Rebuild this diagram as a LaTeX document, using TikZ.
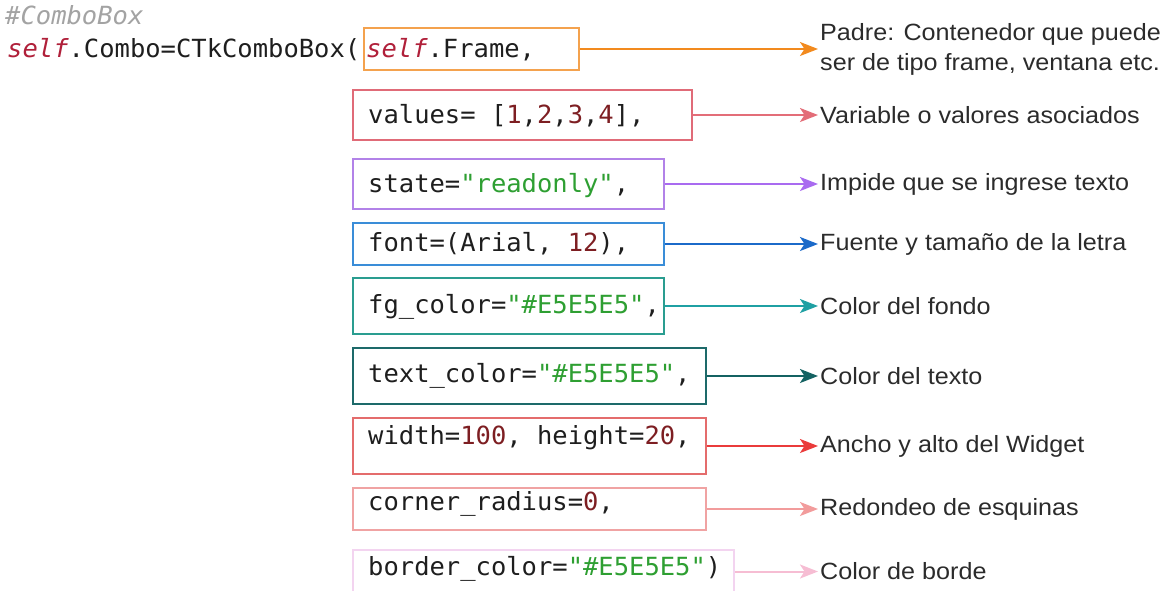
\documentclass[tikz,border=0pt]{standalone}
\usepackage{fontspec}
\setmainfont{Liberation Sans}
\newfontfamily\codefont[FakeStretch=1.02,ItalicFont={DejaVu Sans Mono Oblique}]{DejaVu Sans Mono}
\newfontfamily\labelfont[FakeStretch=1.07]{Liberation Sans}
\usetikzlibrary{arrows.meta}

% code colours
\definecolor{codeInk}{HTML}{1E1E1E}
\definecolor{cComment}{HTML}{A3A3A3}
\definecolor{cSelf}{HTML}{B0203A}
\definecolor{cNum}{HTML}{7D1E22}
\definecolor{cStr}{HTML}{2E9F32}
\definecolor{labInk}{HTML}{2B2B2B}
% box / arrow colours
\definecolor{bOrange}{HTML}{F4A24E}\definecolor{aOrange}{HTML}{F28A1E}
\definecolor{bRose}{HTML}{E06B78}\definecolor{aRose}{HTML}{E36D78}
\definecolor{bPurple}{HTML}{B282E8}\definecolor{aPurple}{HTML}{A96BF0}
\definecolor{bBlue}{HTML}{3A8DD8}\definecolor{aBlue}{HTML}{1B6AC9}
\definecolor{bTeal}{HTML}{2A9D90}\definecolor{aTeal}{HTML}{1FA0A3}
\definecolor{bDeep}{HTML}{1D6A6A}\definecolor{aDeep}{HTML}{146262}
\definecolor{bRed}{HTML}{E46C6C}\definecolor{aRed}{HTML}{EA3B3B}
\definecolor{bSalmon}{HTML}{F0A3A3}\definecolor{aSalmon}{HTML}{F29C9C}
\definecolor{bPink}{HTML}{F3D4F0}\definecolor{aPink}{HTML}{F6BDD3}

\newcommand\kwself{\textcolor{cSelf}{\itshape self}}
\newcommand\cnum[1]{\textcolor{cNum}{#1}}
\newcommand\cstr[1]{\textcolor{cStr}{#1}}

\begin{document}
\begin{tikzpicture}[x=1pt,y=-1pt,
  box/.style={draw, line width=2pt, inner sep=0pt, anchor=north west},
  code/.style={anchor=base west, inner sep=0pt, text=codeInk,
    font=\codefont\fontsize{25}{30}\selectfont},
  lab/.style={anchor=west, inner xsep=2pt, inner ysep=0pt, align=left,
    text=labInk, font=\labelfont\fontsize{23.5}{30}\selectfont},
  conn/.style={line width=2pt, -{Stealth[length=18pt,width=14pt,inset=4.5pt]}}
]
\useasboundingbox (0,0) rectangle (1173,590);
\clip (0,0) rectangle (1173,590);

% argument boxes
\node[box, draw=bOrange, minimum width=215pt, minimum height=42pt] (b1) at (363,27) {};
\node[box, draw=bRose,   minimum width=339pt, minimum height=50pt] (b2) at (352,89) {};
\node[box, draw=bPurple, minimum width=311pt, minimum height=50pt] (b3) at (352,158) {};
\node[box, draw=bBlue,   minimum width=311pt, minimum height=42pt] (b4) at (352,222) {};
\node[box, draw=bTeal,   minimum width=311pt, minimum height=56pt] (b5) at (352,277) {};
\node[box, draw=bDeep,   minimum width=353pt, minimum height=56pt] (b6) at (352,347) {};
\node[box, draw=bRed,    minimum width=353pt, minimum height=56pt] (b7) at (352,417) {};
\node[box, draw=bSalmon, minimum width=353pt, minimum height=42pt] (b8) at (352,487) {};
\node[box, draw=bPink,   minimum width=381pt, minimum height=43pt] (b9) at (352,549) {};

% source code
\node[code, text=cComment] (cm) at (5,24) {\itshape\#ComboBox};
\node[code] (c1) at (7,57) {\kwself.Combo=CTkComboBox(};
\node[code] (c1b) at (366,57) {\kwself.Frame,};
\node[code] (c2) at (368,123) {values= [\cnum{1},\cnum{2},\cnum{3},\cnum{4}],};
\node[code] (c3) at (368,192) {state=\cstr{"readonly"},};
\node[code] (c4) at (368,251) {font=(Arial, \cnum{12}),};
\node[code] (c5) at (368,313) {fg\_color=\cstr{"\#E5E5E5"},};
\node[code] (c6) at (368,382) {text\_color=\cstr{"\#E5E5E5"},};
\node[code] (c7) at (368,444) {width=\cnum{100}, height=\cnum{20},};
\node[code] (c8) at (368,510) {corner\_radius=\cnum{0},};
\node[code] (c9) at (368,575) {border\_color=\cstr{"\#E5E5E5"})};

% descriptions
\node[lab] (l1) at (818,0 |- b1.east) {Padre: Contenedor que puede\\ser de tipo frame, ventana etc.};
\node[lab] (l2) at (818,0 |- b2.east) {Variable o valores asociados};
\node[lab] (l3) at (818,0 |- b3.east) {Impide que se ingrese texto};
\node[lab] (l4) at (818,0 |- b4.east) {Fuente y tamaño de la letra};
\node[lab] (l5) at (818,0 |- b5.east) {Color del fondo};
\node[lab] (l6) at (818,0 |- b6.east) {Color del texto};
\node[lab] (l7) at (818,0 |- b7.east) {Ancho y alto del Widget};
\node[lab] (l8) at (818,0 |- b8.east) {Redondeo de esquinas};
\node[lab] (l9) at (818,0 |- b9.east) {Color de borde};

% connectors
\draw[conn, color=aOrange] (b1.east) -- (l1.west);
\draw[conn, color=aRose]   (b2.east) -- (l2.west);
\draw[conn, color=aPurple] (b3.east) -- (l3.west);
\draw[conn, color=aBlue]   (b4.east) -- (l4.west);
\draw[conn, color=aTeal]   (b5.east) -- (l5.west);
\draw[conn, color=aDeep]   (b6.east) -- (l6.west);
\draw[conn, color=aRed]    (b7.east) -- (l7.west);
\draw[conn, color=aSalmon] (b8.east) -- (l8.west);
\draw[conn, color=aPink]   (b9.east) -- (l9.west);
\end{tikzpicture}
\end{document}
